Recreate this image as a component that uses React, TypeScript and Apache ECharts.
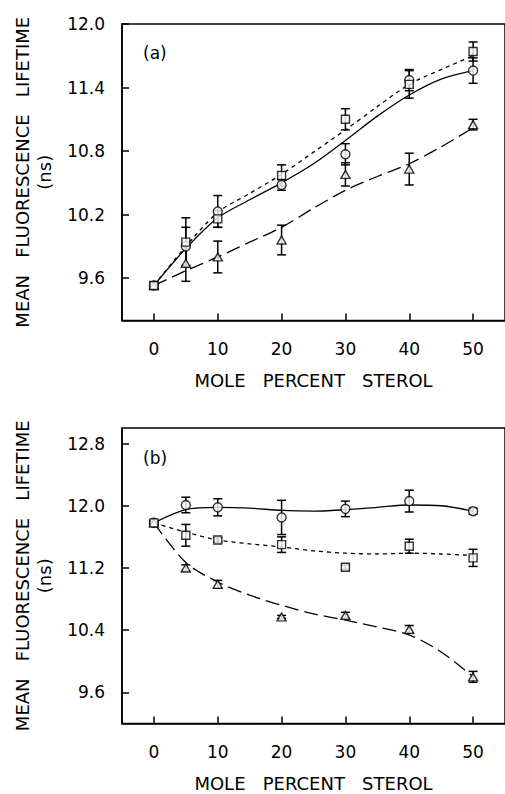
import React, { useEffect, useRef } from "react";
import * as echarts from "echarts";

// ---------- data ----------
const X = [0, 5, 10, 20, 30, 40, 50];
const XFIT = [0, 5, 10, 15, 20, 25, 30, 35, 40, 45, 50];
const xTicks = [0, 10, 20, 30, 40, 50];
const yTicksA = [9.6, 10.2, 10.8, 11.4, 12.0];
const yTicksB = [9.6, 10.4, 11.2, 12.0, 12.8];

// panel (a)
const aCircle = [9.53, 9.9, 10.23, 10.48, 10.77, 11.47, 11.56];
const aCircleErr = [0.03, 0.18, 0.15, 0.05, 0.1, 0.1, 0.12];
const aSquare = [9.53, 9.94, 10.16, 10.57, 11.1, 11.43, 11.74];
const aSquareErr = [0.03, 0.23, 0.08, 0.1, 0.1, 0.13, 0.09];
const aTri = [9.53, 9.74, 9.8, 9.96, 10.58, 10.63, 11.05];
const aTriErr = [0.03, 0.17, 0.15, 0.14, 0.11, 0.15, 0.05];
const aFitSolid = [9.53, 9.88, 10.17, 10.34, 10.5, 10.68, 10.9, 11.13, 11.33, 11.48, 11.56];
const aFitDotted = [9.53, 9.9, 10.22, 10.4, 10.58, 10.79, 11.0, 11.22, 11.43, 11.57, 11.7];
const aFitDashed = [9.53, 9.67, 9.8, 9.94, 10.08, 10.26, 10.43, 10.56, 10.68, 10.84, 11.02];

// panel (b)
const bCircle = [11.78, 12.01, 11.98, 11.85, 11.96, 12.06, 11.93];
const bCircleErr = [0.02, 0.1, 0.11, 0.22, 0.1, 0.14, 0.04];
const bSquare = [11.78, 11.62, 11.56, 11.5, 11.21, 11.48, 11.33];
const bSquareErr = [0.03, 0.14, 0.03, 0.1, 0.03, 0.09, 0.11];
const bTri = [11.78, 11.2, 10.99, 10.57, 10.59, 10.41, 9.8];
const bTriErr = [0.03, 0.04, 0.05, 0.02, 0.04, 0.05, 0.07];
const bFitSolid = [11.78, 11.95, 11.98, 11.97, 11.94, 11.93, 11.95, 11.98, 12.01, 12.0, 11.93];
const bFitDotted = [11.78, 11.66, 11.56, 11.51, 11.47, 11.42, 11.39, 11.38, 11.39, 11.38, 11.36];
const bFitDashed = [11.78, 11.27, 11.02, 10.85, 10.72, 10.61, 10.53, 10.44, 10.34, 10.12, 9.8];

const FONT = "DejaVu Sans";

const pairs = (xs: number[], ys: number[]) => xs.map((x, i) => [x, ys[i]]);
const triples = (ys: number[], es: number[]) => X.map((x, i) => [x, ys[i], es[i]]);

function errSeries(ys: number[], es: number[], gi: number) {
  return {
    type: "custom",
    xAxisIndex: gi,
    yAxisIndex: gi,
    z: 3,
    silent: true,
    data: triples(ys, es),
    encode: { x: 0, y: 1 },
    renderItem: (params: any, api: any) => {
      const x = api.value(0);
      const y = api.value(1);
      const e = api.value(2);
      const t = api.coord([x, y + e]);
      const b = api.coord([x, y - e]);
      const w = 4.5;
      const st = { stroke: "#000", lineWidth: 1.5 };
      return {
        type: "group",
        children: [
          { type: "line", shape: { x1: t[0], y1: t[1], x2: b[0], y2: b[1] }, style: st },
          { type: "line", shape: { x1: t[0] - w, y1: t[1], x2: t[0] + w, y2: t[1] }, style: st },
          { type: "line", shape: { x1: b[0] - w, y1: b[1], x2: b[0] + w, y2: b[1] }, style: st },
        ],
      };
    },
  };
}

function fitSeries(ys: number[], gi: number, type: any) {
  return {
    type: "line",
    xAxisIndex: gi,
    yAxisIndex: gi,
    z: 2,
    silent: true,
    data: pairs(XFIT, ys),
    smooth: 0.3,
    showSymbol: false,
    symbol: "none",
    lineStyle: { color: "#000", width: 1.3, type },
  };
}

function markSeries(ys: number[], gi: number, symbol: string, size: any, z: number) {
  return {
    type: "scatter",
    xAxisIndex: gi,
    yAxisIndex: gi,
    z,
    silent: true,
    data: pairs(X, ys),
    symbol,
    symbolSize: size,
    itemStyle: { color: "#fff", borderColor: "#000", borderWidth: 1.4 },
  };
}

function xAxis(gi: number) {
  return {
    type: "value",
    gridIndex: gi,
    min: -5,
    max: 55,
    name: "MOLE   PERCENT   STEROL",
    nameLocation: "middle",
    nameGap: 51,
    nameTextStyle: { fontFamily: FONT, fontSize: 18, color: "#000" },
    axisLine: { show: true, onZero: false, lineStyle: { color: "#000", width: 1.5 } },
    axisTick: { show: true, inside: true, length: 7, customValues: xTicks, lineStyle: { color: "#000", width: 1.5 } },
    axisLabel: {
      customValues: xTicks,
      margin: 20,
      fontFamily: FONT,
      fontSize: 17,
      color: "#000",
      formatter: (v: number) => String(v),
    },
    splitLine: { show: false },
  };
}

function yAxis(gi: number, min: number, max: number, ticks: number[]) {
  return {
    type: "value",
    gridIndex: gi,
    min,
    max,
    name: "MEAN   FLUORESCENCE   LIFETIME\n(ns)",
    nameLocation: "middle",
    nameGap: 67,
    nameTextStyle: { fontFamily: FONT, fontSize: 18, color: "#000", lineHeight: 22 },
    axisLine: { show: true, onZero: false, lineStyle: { color: "#000", width: 1.5 } },
    axisTick: { show: true, inside: true, length: 7, customValues: ticks, lineStyle: { color: "#000", width: 1.5 } },
    axisLabel: {
      customValues: ticks,
      margin: 17,
      fontFamily: FONT,
      fontSize: 17,
      color: "#000",
      formatter: (v: number) => v.toFixed(1),
    },
    splitLine: { show: false },
  };
}

export default function App() {
  const ref = useRef<HTMLDivElement>(null);
  useEffect(() => {
    if (!ref.current) return;
    const chart = echarts.init(ref.current, undefined, { renderer: "svg" });
    chart.setOption({
      animation: false,
      backgroundColor: "#fff",
      grid: [
        { left: 122, top: 24, width: 385, height: 296.5, show: true, borderColor: "#000", borderWidth: 1.5, backgroundColor: "transparent" },
        { left: 122, top: 428, width: 385, height: 295.5, show: true, borderColor: "#000", borderWidth: 1.5, backgroundColor: "transparent" },
      ],
      xAxis: [xAxis(0), xAxis(1)],
      yAxis: [yAxis(0, 9.2, 12.0, yTicksA), yAxis(1, 9.2, 13.0, yTicksB)],
      graphic: [
        { type: "text", left: 143, top: 44, style: { text: "(a)", fontFamily: FONT, fontSize: 17, fill: "#000" } },
        { type: "text", left: 143, top: 449, style: { text: "(b)", fontFamily: FONT, fontSize: 17, fill: "#000" } },
      ],
      series: [
        fitSeries(aFitSolid, 0, "solid"),
        fitSeries(aFitDotted, 0, [4, 4]),
        fitSeries(aFitDashed, 0, [14, 6]),
        errSeries(aCircle, aCircleErr, 0),
        errSeries(aTri, aTriErr, 0),
        errSeries(aSquare, aSquareErr, 0),
        markSeries(aCircle, 0, "circle", 9, 4),
        markSeries(aTri, 0, "triangle", [9, 8], 5),
        markSeries(aSquare, 0, "rect", [8, 8], 6),

        fitSeries(bFitSolid, 1, "solid"),
        fitSeries(bFitDotted, 1, [4, 4]),
        fitSeries(bFitDashed, 1, [14, 6]),
        errSeries(bCircle, bCircleErr, 1),
        errSeries(bTri, bTriErr, 1),
        errSeries(bSquare, bSquareErr, 1),
        markSeries(bCircle, 1, "circle", 9, 4),
        markSeries(bTri, 1, "triangle", [9, 8], 5),
        markSeries(bSquare, 1, "rect", [8, 8], 6),
      ],
    });
    return () => chart.dispose();
  }, []);
  return (
    <div
      ref={ref}
      style={{ position: "absolute", left: 0, top: 0, width: 505, height: 794 }}
    />
  );
}
